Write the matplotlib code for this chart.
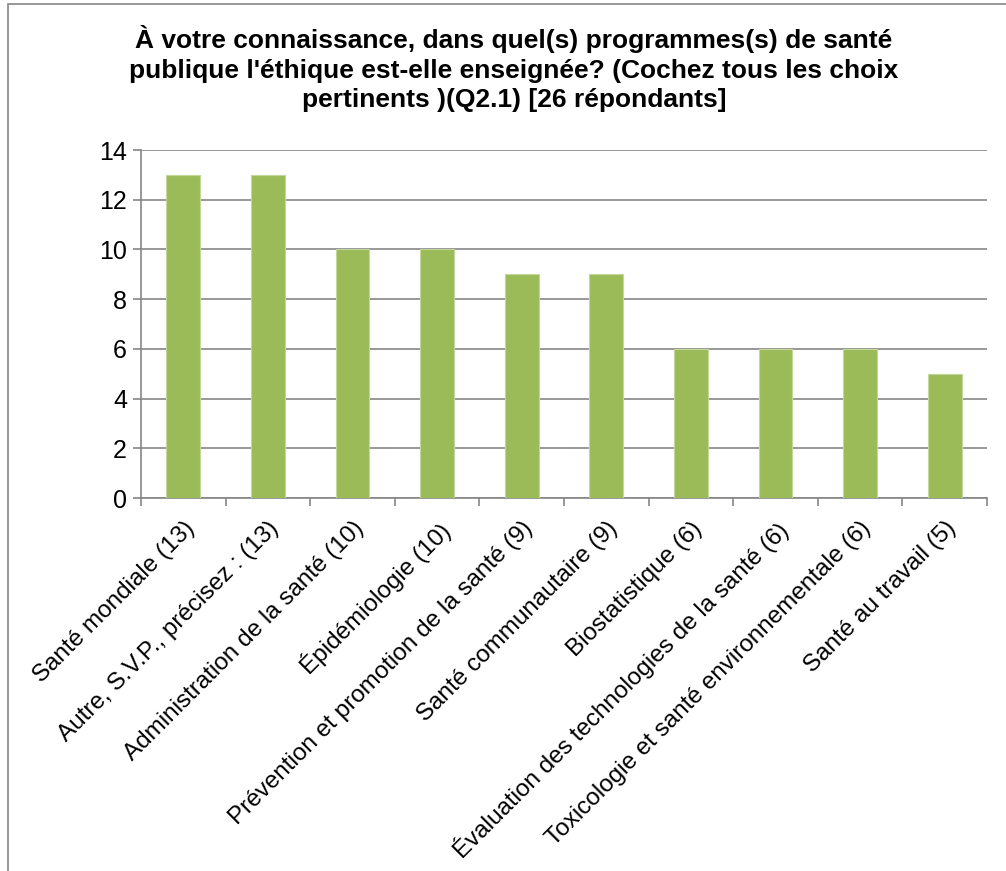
import matplotlib.pyplot as plt
import numpy as np

plt.rcParams['font.family'] = ['Liberation Sans', 'DejaVu Sans']

# données du graphique
categories = [
    "Santé mondiale (13)",
    "Autre, S.V.P., précisez : (13)",
    "Administration de la santé (10)",
    "Épidémiologie (10)",
    "Prévention et promotion de la santé (9)",
    "Santé communautaire (9)",
    "Biostatistique (6)",
    "Évaluation des technologies de la santé (6)",
    "Toxicologie et santé environnementale (6)",
    "Santé au travail (5)",
]
values = [13, 13, 10, 10, 9, 9, 6, 6, 6, 5]
yticks = [0, 2, 4, 6, 8, 10, 12, 14]
title = ("À votre connaissance, dans quel(s) programmes(s) de santé\n"
         "publique l'éthique est-elle enseignée? (Cochez tous les choix\n"
         "pertinents )(Q2.1) [26 répondants]")

fig = plt.figure(figsize=(10.06, 8.71), dpi=100)
ax = fig.add_axes([141/1006, 1 - 498/871, (987-141)/1006, (498-150)/871])

x = np.arange(len(categories))
ax.bar(x, values, width=0.4, color='#9BBB59', edgecolor='#C3D69B', linewidth=0.8, zorder=3)

ax.set_xlim(-0.5, len(categories) - 0.5)
ax.set_ylim(0, 14)
ax.set_yticks(yticks)
ax.yaxis.grid(True, color='#868686', linewidth=1.2, zorder=0)
ax.tick_params(axis='y', length=6, color='#868686', width=1.2, labelsize=18, pad=4)

# étiquettes sur les catégories, ticks entre les catégories
ax.set_xticks(x)
ax.set_xticklabels(categories, rotation=45, ha='right', rotation_mode='anchor', fontsize=17.5)
ax.tick_params(axis='x', length=0, pad=14)
ax.set_xticks(np.arange(len(categories) + 1) - 0.5, minor=True)
ax.tick_params(axis='x', which='minor', length=6, color='#868686', width=1.2)

for s in ['top', 'right']:
    ax.spines[s].set_visible(False)
for s in ['left', 'bottom']:
    ax.spines[s].set_color('#868686')
    ax.spines[s].set_linewidth(1.2)

fig.text(514/1006, 1 - 25/871, title, ha='center', va='top', fontsize=19,
         fontweight='bold', linespacing=1.3)

# bordure du graphique
border = plt.Rectangle((8/1006, -0.1), 1.2, 1 - 4/871 + 0.1, transform=fig.transFigure,
                       fill=False, edgecolor='#868686', linewidth=1.2)
fig.patches.append(border)

fig.savefig("out.png", dpi=100)
